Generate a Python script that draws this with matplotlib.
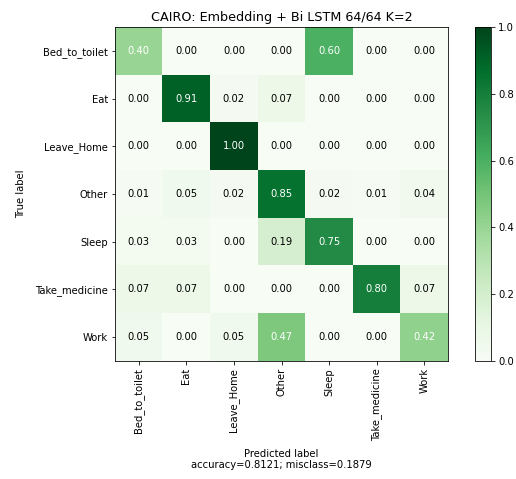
import matplotlib
matplotlib.use('Agg')
import matplotlib.pyplot as plt
import numpy as np

# labels and normalized confusion matrix values
labels = ['Bed_to_toilet', 'Eat', 'Leave_Home', 'Other', 'Sleep', 'Take_medicine', 'Work']
row_bed = [0.40, 0.00, 0.00, 0.00, 0.60, 0.00, 0.00]
row_eat = [0.00, 0.91, 0.02, 0.07, 0.00, 0.00, 0.00]
row_leave = [0.00, 0.00, 1.00, 0.00, 0.00, 0.00, 0.00]
row_other = [0.01, 0.05, 0.02, 0.85, 0.02, 0.01, 0.04]
row_sleep = [0.03, 0.03, 0.00, 0.19, 0.75, 0.00, 0.00]
row_med = [0.07, 0.07, 0.00, 0.00, 0.00, 0.80, 0.07]
row_work = [0.05, 0.00, 0.05, 0.47, 0.00, 0.00, 0.42]
accuracy = 0.8121
misclass = 0.1879

cm = np.array([row_bed, row_eat, row_leave, row_other, row_sleep, row_med, row_work])

fig = plt.figure(figsize=(516/72, 479/72), dpi=72)
ax = fig.add_axes([115/516, 1-361/479, 333/516, 334/479])
cax = fig.add_axes([475/516, 1-361/479, 16/516, 334/479])

im = ax.imshow(cm, interpolation='nearest', cmap='Greens', vmin=0, vmax=1, aspect='auto')
fig.colorbar(im, cax=cax)
ax.set_title('CAIRO: Embedding + Bi LSTM 64/64 K=2', fontsize=12.8)

ticks = np.arange(len(labels))
ax.set_xticks(ticks)
ax.set_xticklabels(labels, rotation=90)
ax.set_yticks(ticks)
ax.set_yticklabels(labels)

thresh = 0.3
for i in range(cm.shape[0]):
    for j in range(cm.shape[1]):
        ax.text(j, i, '{:0.2f}'.format(cm[i, j]), ha='center', va='center',
                color='white' if cm[i, j] > thresh else 'black')

ax.set_ylabel('True label', labelpad=9)
ax.set_xlabel('Predicted label\naccuracy={:0.4f}; misclass={:0.4f}'.format(accuracy, misclass),
              labelpad=8)

fig.savefig('out.png', dpi=72)
